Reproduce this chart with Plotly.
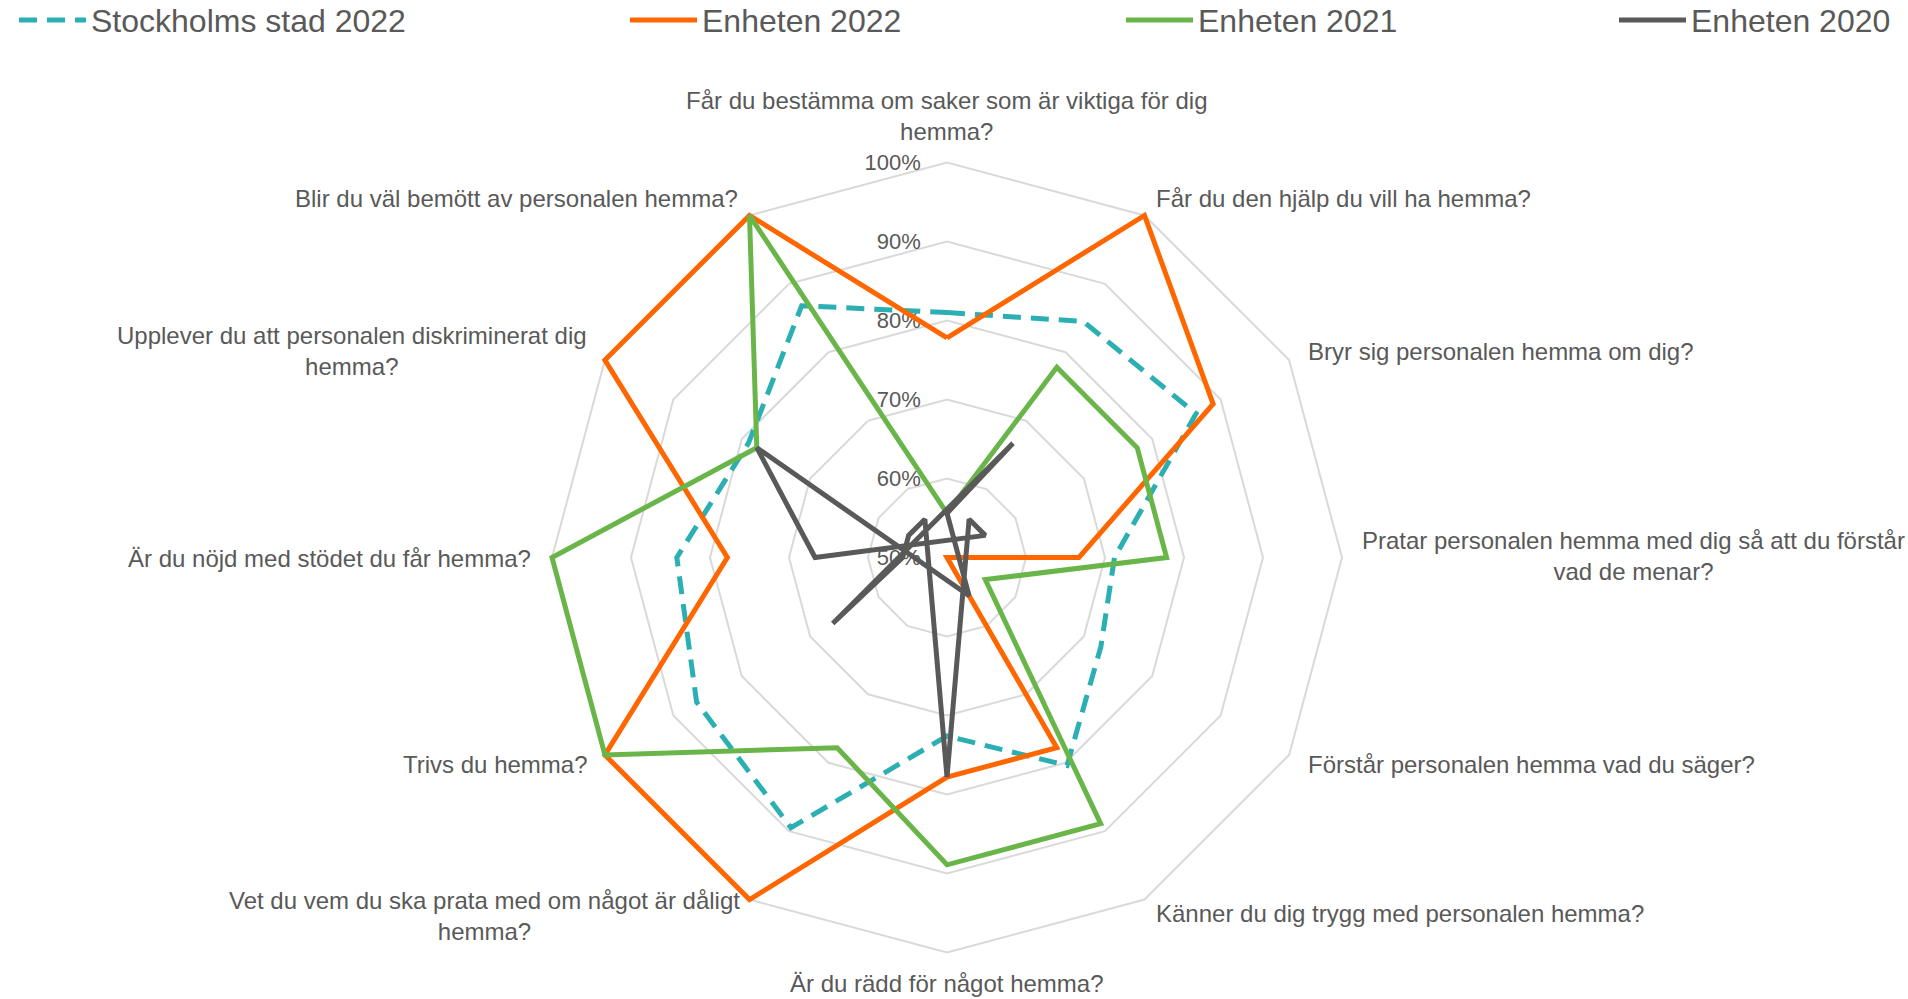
import plotly.graph_objects as go

categories = [
    "Får du bestämma om saker som är viktiga för dig<br>hemma?",
    "Får du den hjälp du vill ha hemma?",
    "Bryr sig personalen hemma om dig?",
    "Pratar personalen hemma med dig så att du förstår<br>vad de menar?",
    "Förstår personalen hemma vad du säger?",
    "Känner du dig trygg med personalen hemma?",
    "Är du rädd för något hemma?",
    "Vet du vem du ska prata med om något är dåligt<br>hemma?",
    "Trivs du hemma?",
    "Är du nöjd med stödet du får hemma?",
    "Upplever du att personalen diskriminerat dig<br>hemma?",
    "Blir du väl bemött av personalen hemma?",
]

stockholm_2022 = [0.81, 0.845, 0.864, 0.712, 0.725, 0.804, 0.726, 0.895, 0.866, 0.842, 0.79, 0.868]
enheten_2022 = [0.778, 1.0, 0.889, 0.667, 0.5, 0.778, 0.778, 1.0, 1.0, 0.778, 1.0, 1.0]
enheten_2021 = [0.556, 0.778, 0.778, 0.778, 0.556, 0.889, 0.889, 0.778, 1.0, 1.0, 0.778, 1.0]
enheten_2020 = [0.222, 0.556, 0.556, 0.333, 0.222, 0.556, 0.444, 0.333, 0.667, 0.556, 0.556, 0.556]

series_names = ["Stockholms stad 2022", "Enheten 2022", "Enheten 2021", "Enheten 2020"]
radial_ticks = [0.5, 0.6, 0.7, 0.8, 0.9, 1.0]
radial_ticktext = ["50%", "60%", "70%", "80%", "90%", "100%"]
axis_min, axis_max = 0.5, 1.0
axis_pad = 0.012  # a little room so lines on the 100% ring are not clipped

colors = ["#2BAFB2", "#FF6600", "#6AB54A", "#595959"]
dashes = ["18px,10px", "solid", "solid", "solid"]
legend_ids = ["legend", "legend2", "legend3", "legend4"]

W, H = 1908, 999
cx, cy, R = 947.0, 557.5, 395.0          # centre and radius of the 100% ring
R_total = R * (axis_max + axis_pad - axis_min) / (axis_max - axis_min)
TXT = "#595959"
FONT = "Liberation Sans, Arial, sans-serif"


def radar_points(vals):
    """Excel radar behaviour: values below the axis minimum are drawn
    through the centre, i.e. on the opposite spoke."""
    n = len(categories)
    rr, tt = [], []
    for i, v in enumerate(vals):
        if v < axis_min:
            rr.append(2 * axis_min - v)
            tt.append(categories[(i + n // 2) % n])
        else:
            rr.append(v)
            tt.append(categories[i])
    return rr + [rr[0]], tt + [tt[0]]


fig = go.Figure()
for name, vals, color, dash, lg in zip(series_names,
                                       [stockholm_2022, enheten_2022, enheten_2021, enheten_2020],
                                       colors, dashes, legend_ids):
    rr, tt = radar_points(vals)
    fig.add_trace(go.Scatterpolar(
        r=rr, theta=tt, mode="lines", name=name, legend=lg,
        cliponaxis=False,
        line=dict(color=color, width=5, dash=dash),
    ))

# legends (one per item, spread like the original)
legend_text_x = [91, 702, 1198, 1691]
ITEMW = 67
layout_legends = {}
for lg, tx in zip(legend_ids, legend_text_x):
    layout_legends[lg] = dict(
        orientation="h", x=(tx - ITEMW - 10) / W, xanchor="left", y=1.0073, yanchor="top",
        itemwidth=ITEMW,
        font=dict(size=32, color=TXT, family=FONT),
        bgcolor="rgba(0,0,0,0)", borderwidth=0)

# category labels (placed like the Excel chart, lines centred)
label_pos = [
    (946.7, 116.2, "center"), (1153.5, 198.3, "left"), (1305.6, 351.7, "left"),
    (1360.4, 556.0, "left"), (1305.6, 764.2, "left"), (1153.5, 913.8, "left"),
    (946.7, 983.2, "center"), (742.2, 916.3, "right"), (590.1, 764.2, "right"),
    (533.0, 558.5, "right"), (589.0, 351.0, "right"), (739.8, 198.3, "right"),
]
annotations = []
for text, (px, py, anchor) in zip(categories, label_pos):
    annotations.append(dict(
        text=text, x=px / W, y=1 - py / H, xref="paper", yref="paper",
        xanchor=anchor, yanchor="middle", align="center", showarrow=False,
        font=dict(size=24, color=TXT, family=FONT)))

fig.update_layout(
    width=W, height=H,
    margin=dict(l=0, r=0, t=0, b=0, autoexpand=False),
    paper_bgcolor="white",
    font=dict(family=FONT, color=TXT),
    showlegend=True,
    annotations=annotations,
    polar=dict(
        domain=dict(x=[(cx - R_total) / W, (cx + R_total) / W],
                    y=[(H - cy - R_total) / H, (H - cy + R_total) / H]),
        gridshape="linear",
        bgcolor="white",
        radialaxis=dict(
            range=[axis_min, axis_max + axis_pad], tickvals=radial_ticks, ticktext=radial_ticktext,
            angle=90, tickangle=90, side="counterclockwise", layer="below traces",
            showline=False, gridcolor="#D9D9D9", gridwidth=1.5,
            ticks="outside", ticklen=18, tickcolor="rgba(0,0,0,0)",
            tickfont=dict(size=22, color=TXT, family=FONT),
        ),
        angularaxis=dict(
            type="category", categoryarray=categories,
            direction="clockwise", rotation=90,
            showgrid=False, showline=False,
            ticks="", showticklabels=False, layer="below traces",
        ),
    ),
    **layout_legends,
)

fig.write_html(
    "out.html",
    config={"displayModeBar": False},
    post_script="document.body.style.margin='0';document.body.style.overflow='hidden';",
)
